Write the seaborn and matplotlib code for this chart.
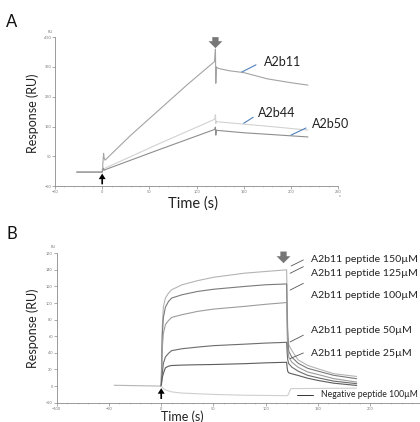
import matplotlib
matplotlib.use("Agg")
import matplotlib.pyplot as plt
import pandas as pd
import seaborn as sns
from matplotlib.ticker import MultipleLocator

sns.set_theme(style="white")
plt.rcParams["font.family"] = ["Lato", "DejaVu Sans"]

# ---- panel A: three peptides, 0-120 s injection ----
a2b11_t = [-27, 0, 1.5, 2, 3, 30, 60, 90, 119, 120, 120.4, 121, 123, 135, 150, 175, 200, 218]
a2b11_v = [-3, -3, 60, 45, 37, 120, 205, 290, 368, 410, 295, 350, 345, 337, 331, 310, 297, 289]
a2b44_t = [-27, 0, 1, 2, 3, 60, 119, 120, 120.4, 121, 122, 150, 175, 218]
a2b44_v = [-3, -3, 15, 5, 10, 92, 174, 190, 160, 168, 166, 158, 151, 138]
a2b50_t = [-27, 0, 1, 2, 3, 60, 119, 120, 120.4, 121, 122, 150, 175, 218]
a2b50_v = [-3, -3, 10, 3, 5, 72, 140, 148, 121, 138, 137, 129, 124, 115]

# ---- panel B: A2b11 dose series ----
base_t = [-45, 0]
base_v = [1, 0]
assoc_t = [0, 0.5, 1, 2, 4, 7, 10, 20, 35, 50, 80, 100, 120]
dissoc_t = [120.5, 121, 122, 125, 131, 140, 150, 165, 187]
c150_on = [0, 40, 70, 95, 106, 112, 116, 122, 127, 131, 136, 138, 140]
c150_off = [100, 70, 50, 42.7, 31.6, 25, 20.8, 15, 11.6]
c125_on = [0, 30, 60, 82, 95, 102, 106, 110, 114, 116.6, 120, 122, 123]
c125_off = [85, 60, 42, 34.7, 27.5, 21.5, 18, 13, 8.9]
c100_on = [0, 20, 45, 63, 74, 79, 82.7, 86, 90, 92.7, 96, 98.5, 100.6]
c100_off = [65, 45, 35, 28.7, 22.7, 17, 14, 9, 4.8]
c50_on = [0, 8, 15, 27, 35, 39.5, 42.7, 45, 47, 48.7, 50.5, 51.8, 52.7]
c50_off = [40, 32, 27, 22.8, 18, 13, 10, 6, 2.9]
c25_on = [0, 5, 10, 15, 22, 24, 24.8, 25.3, 25.7, 26, 27, 28, 28.7]
c25_off = [22, 18, 16, 14.8, 12.8, 9.5, 6.8, 3.5, 0.8]
neg_t = [0, 2, 5, 10, 20, 50, 80, 120, 121, 124, 187]
neg_v = [0, -3, -5, -7, -8.4, -10, -11, -11.5, -11.5, -3, -2.5]

b_labels = ["A2b11 peptide 150µM", "A2b11 peptide 125µM", "A2b11 peptide 100µM",
            "A2b11 peptide 50µM", "A2b11 peptide 25µM"]


def long_frame(series):
    parts = [pd.DataFrame({"t": t, "v": v, "name": n}) for n, t, v in series]
    return pd.concat(parts, ignore_index=True)


def style_axis(ax):
    for side in ("top", "right"):
        ax.spines[side].set_visible(False)
    for side in ("left", "bottom"):
        ax.spines[side].set_color("#8a8a8a")
        ax.spines[side].set_linewidth(0.6)
    ax.tick_params(which="major", length=2, width=0.5, color="#8a8a8a",
                   labelsize=2.8, labelcolor="#777777", pad=0.8, left=True, bottom=True)
    ax.tick_params(which="minor", length=1, width=0.4, color="#aaaaaa", left=False, bottom=True)
    ax.set_xlabel("")
    ax.set_ylabel("")


fig = plt.figure(figsize=(4.2, 4.22), dpi=100)

# ---------------- panel A ----------------
ax_a = fig.add_axes([0.131, 0.559, 0.674, 0.353])
df_a = long_frame([("A2b11", a2b11_t, a2b11_v),
                   ("A2b44", a2b44_t, a2b44_v),
                   ("A2b50", a2b50_t, a2b50_v)])
sns.lineplot(data=df_a, x="t", y="v", hue="name", estimator=None, sort=False,
             palette={"A2b11": "#a3a3a3", "A2b44": "#d2d2d2", "A2b50": "#8e8e8e"},
             linewidth=0.8, legend=False, ax=ax_a)
ax_a.set_xlim(-50, 250)
ax_a.set_ylim(-50, 450)
ax_a.set_xticks(range(-50, 251, 50))
ax_a.set_yticks(range(-50, 451, 100))
ax_a.xaxis.set_minor_locator(MultipleLocator(10))
style_axis(ax_a)

blue = "#4f81bd"
for txt, tx, ty, l0, l1 in [("A2b11", 171, 367, (148, 333), (163, 357)),
                            ("A2b44", 165, 196, (150, 161), (160, 181)),
                            ("A2b50", 222, 158, (200, 121), (216, 145))]:
    ax_a.plot([l0[0], l1[0]], [l0[1], l1[1]], color=blue, lw=0.8, clip_on=False)
    ax_a.text(tx, ty, txt, fontsize=9, ha="left", va="center", color="#222222", clip_on=False)

ax_a.annotate("", xy=(0, -8), xytext=(0, -44), annotation_clip=False,
              arrowprops=dict(facecolor="black", edgecolor="none", width=1.2,
                              headwidth=5, headlength=4))
ax_a.annotate("", xy=(120, 413), xytext=(120, 450), annotation_clip=False,
              arrowprops=dict(facecolor="#777777", edgecolor="none", width=4.5,
                              headwidth=10, headlength=5))
ax_a.text(-52, 462, "RU", fontsize=2.8, color="#777777", ha="right", va="bottom")
ax_a.text(251, -75, "s", fontsize=2.8, color="#777777", ha="left", va="top", clip_on=False)

# ---------------- panel B ----------------
ax_b = fig.add_axes([0.135, 0.0457, 0.871, 0.3543])
b_series = [("baseline", base_t, base_v)]
for lab, on, off in zip(b_labels, [c150_on, c125_on, c100_on, c50_on, c25_on],
                        [c150_off, c125_off, c100_off, c50_off, c25_off]):
    b_series.append((lab, assoc_t + dissoc_t, on + off))
b_series.append(("Negative peptide 100µM", neg_t, neg_v))
df_b = long_frame(b_series)
b_palette = {"baseline": "#b5b5b5",
             b_labels[0]: "#b4b4b4", b_labels[1]: "#7a7a7a", b_labels[2]: "#9c9c9c",
             b_labels[3]: "#6c6c6c", b_labels[4]: "#5c5c5c",
             "Negative peptide 100µM": "#cfcfcf"}
sns.lineplot(data=df_b, x="t", y="v", hue="name", estimator=None, sort=False,
             palette=b_palette, linewidth=0.8, legend=False, ax=ax_b)
ax_b.set_xlim(-100, 250)
ax_b.set_ylim(-20, 160)
ax_b.set_xticks(range(-100, 201, 50))
ax_b.set_yticks(range(-20, 161, 20))
ax_b.xaxis.set_minor_locator(MultipleLocator(10))
style_axis(ax_b)

lead = "#555555"
b_text_y = [153, 135.8, 109.6, 66.5, 39.2]
b_lead = [((124.3, 144.6), (136, 151.9)), ((123.3, 135.8), (136, 143.8)),
          ((123.3, 115.6), (136, 123.7)), ((123.3, 53.2), (136, 61.3)),
          ((123.3, 33.1), (136, 39.9))]
for lab, ty, (l0, l1) in zip(b_labels, b_text_y, b_lead):
    ax_b.plot([l0[0], l1[0]], [l0[1], l1[1]], color=lead, lw=0.6, clip_on=False)
    ax_b.text(143.4, ty, lab, fontsize=7.55, ha="left", va="center", color="#222222", clip_on=False)
ax_b.plot([129.5, 145.5], [-10.4, -10.4], color="#333333", lw=0.7, clip_on=False)
ax_b.text(153, -10.4, "Negative peptide 100µM", fontsize=6.2, ha="left", va="center",
          color="#222222", clip_on=False)

ax_b.annotate("", xy=(0, -2.5), xytext=(0, -15.5), annotation_clip=False,
              arrowprops=dict(facecolor="black", edgecolor="none", width=1.2,
                              headwidth=5, headlength=4))
ax_b.annotate("", xy=(117, 148), xytext=(117, 162), annotation_clip=False,
              arrowprops=dict(facecolor="#777777", edgecolor="none", width=4.5,
                              headwidth=10, headlength=5))
ax_b.text(-101, 165, "RU", fontsize=2.8, color="#777777", ha="right", va="bottom")

# axis titles and panel letters
fig.text(33 / 420, 1 - 113 / 422, "Response (RU)", rotation=90, fontsize=9,
         ha="center", va="center", color="#222222")
fig.text(193 / 420, 1 - 204 / 422, "Time (s)", fontsize=10.5, ha="center", va="center",
         color="#222222")
fig.text(33 / 420, 1 - 328 / 422, "Response (RU)", rotation=90, fontsize=9,
         ha="center", va="center", color="#222222")
fig.text(182 / 420, 1 - 410.5 / 422, "Time (s)", fontsize=9, ha="center", va="top",
         color="#222222")
fig.text(12 / 420, 1 - 22 / 422, "A", fontsize=12, ha="center", va="center", color="#111111")
fig.text(12 / 420, 1 - 234 / 422, "B", fontsize=12, ha="center", va="center", color="#111111")

fig.savefig("out.png", dpi=100)
